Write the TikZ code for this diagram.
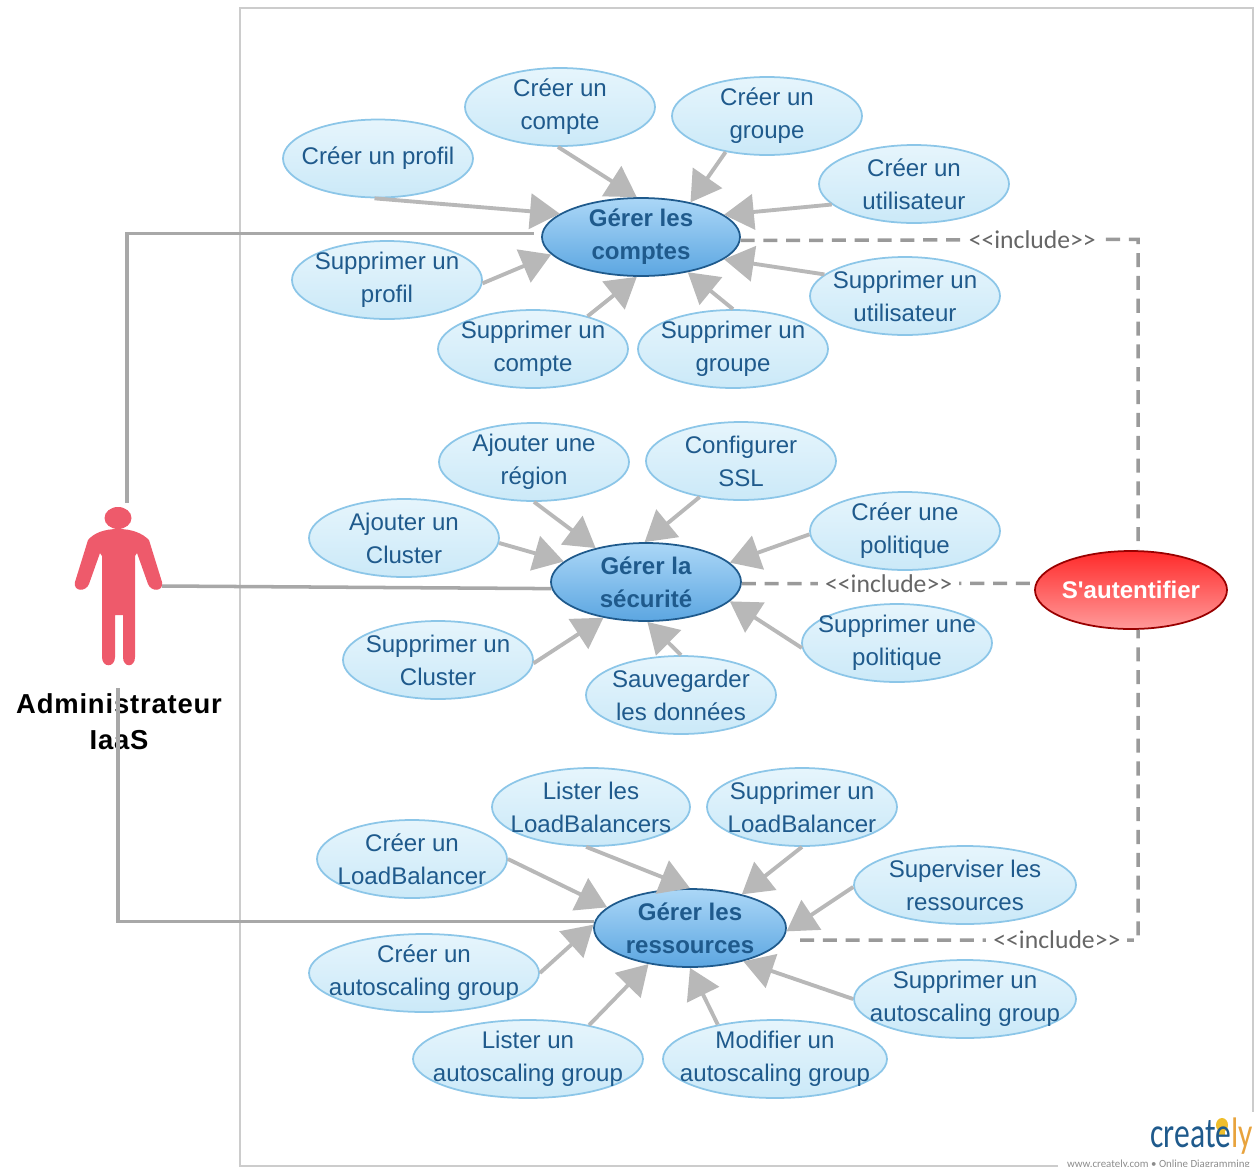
\documentclass[tikz,border=0pt]{standalone}
\usepackage{fontspec}
\setmainfont{Liberation Sans}
\newfontfamily\labelfont{Carlito}
\newfontfamily\actorfont[LetterSpace=3]{Liberation Sans}
\usetikzlibrary{shapes.geometric,arrows.meta}
\definecolor{linegray}{HTML}{B8B8B8}
\definecolor{actorline}{HTML}{A8A8A8}
\definecolor{dashgray}{HTML}{9A9A9A}
\definecolor{usetext}{HTML}{1F5A8C}
\definecolor{actorred}{HTML}{EE5A6B}
\definecolor{usetop}{HTML}{E6F5FC}
\definecolor{usebottom}{HTML}{CBE9F8}
\definecolor{useborder}{HTML}{8CC6E8}
\definecolor{maintop}{HTML}{ABD7F7}
\definecolor{mainbottom}{HTML}{5CA6E1}
\definecolor{authtop}{HTML}{FF2A2A}
\definecolor{authbottom}{HTML}{FF9A9A}
\definecolor{logoorange}{HTML}{E8A33D}
\tikzset{
    usecase/.style={ellipse,draw=useborder,line width=1pt,top color=usetop,bottom color=usebottom,
        minimum width=190*0.02cm,minimum height=78*0.02cm,inner xsep=-30pt,inner ysep=-12pt,align=center,text=usetext,
        font=\fontsize{13.7}{18.8}\selectfont},
    mainuse/.style={usecase,draw=usetext,top color=maintop,bottom color=mainbottom,font=\fontsize{13.7}{18.8}\selectfont\bfseries},
    authuse/.style={usecase,draw=red!60!black,top color=authtop,bottom color=authbottom,text=white,font=\fontsize{13.7}{18.8}\selectfont\bfseries},
    includes/.style={line width=2pt,draw=dashgray,dash pattern=on 8pt off 5pt},
    includelabel/.style={fill=white,inner xsep=4pt,inner ysep=1.5pt,text=black!60,font=\labelfont\fontsize{14.6}{16}\selectfont},
    toward/.style={line width=2.2pt,draw=linegray,-{Triangle[length=17pt,width=20pt,fill=linegray]}},
    actorlink/.style={line width=2pt,draw=actorline},
}
\begin{document}
\begin{tikzpicture}[x=0.02cm,y=-0.02cm]
    \useasboundingbox (0,0) rectangle (1255,1167);
    \draw[black!20,line width=0.6pt] (1058,1166) -- (240,1166) -- (240,8) -- (1253,8) -- (1253,1112);

    % actor
    \fill[actorred] (118,518) ellipse [x radius=13.5,y radius=11];
    \fill[actorred] (118,529) .. controls (104,529) and (94,533) .. (88,540) -- (75,582)
        .. controls (73,592) and (86,592) .. (89,584) -- (100,553) -- (102,556) -- (102,657)
        .. controls (102,668) and (115,668) .. (115,657) -- (115,615) -- (123,615) -- (123,657)
        .. controls (123,668) and (135,668) .. (135,657) -- (135,556) -- (137,553) -- (148,584)
        .. controls (151,592) and (164,592) .. (162,582) -- (149,540) .. controls (142,533) and (132,529) .. (118,529);
    \node[align=center,font=\actorfont\fontsize{15.6}{20.5}\selectfont\bfseries] (admin) at (119,722) {Administrateur\\IaaS};
    \coordinate (actortop) at (127,503);
    \coordinate (actorhand) at (162,586);
    \coordinate (actorlow) at (118,688);

    % main use cases
    \node[mainuse,minimum width=198*0.02cm] (comptes) at (641,237) {Gérer les\\comptes};
    \node[mainuse] (secu) at (646,582) {Gérer la\\sécurité};
    \node[mainuse,minimum width=192*0.02cm] (res) at (690,928) {Gérer les\\ressources};
    \node[authuse,minimum width=192*0.02cm] (auth) at (1131,590) {S\textquotesingle autentifier};

    % comptes
    \node[usecase] (cprofil) at (378,158.5) {Créer un profil};
    \node[usecase] (ccompte) at (560,107) {Créer un\\compte};
    \node[usecase] (cgroupe) at (767,116) {Créer un\\groupe};
    \node[usecase] (cutil) at (914,184) {Créer un\\utilisateur};
    \node[usecase] (sprofil) at (387,280) {Supprimer un\\profil};
    \node[usecase] (scompte) at (533,349) {Supprimer un\\compte};
    \node[usecase] (sgroupe) at (733,349) {Supprimer un\\groupe};
    \node[usecase] (sutil) at (905,296) {Supprimer un\\utilisateur};

    % securite
    \node[usecase] (aregion) at (534,462) {Ajouter une\\région};
    \node[usecase] (ssl) at (741,461) {Configurer\\SSL};
    \node[usecase] (acluster) at (404,538) {Ajouter un\\Cluster};
    \node[usecase] (cpolitique) at (905,531) {Créer une\\politique};
    \node[usecase] (scluster) at (438,660) {Supprimer un\\Cluster};
    \node[usecase] (sauver) at (681,695) {Sauvegarder\\les données};
    \node[usecase] (spolitique) at (897,643) {Supprimer une\\politique};

    % ressources
    \node[usecase,minimum width=198*0.02cm] (llb) at (591,807) {Lister les\\LoadBalancers};
    \node[usecase] (slb) at (802,807) {Supprimer un\\LoadBalancer};
    \node[usecase] (clb) at (412,859) {Créer un\\LoadBalancer};
    \node[usecase,minimum width=222*0.02cm] (superv) at (965,885) {Superviser les\\ressources};
    \node[usecase,minimum width=230*0.02cm] (cauto) at (424,973) {Créer un\\autoscaling group};
    \node[usecase,minimum width=230*0.02cm] (lauto) at (528,1059) {Lister un\\autoscaling group};
    \node[usecase,minimum width=224*0.02cm] (mauto) at (775,1059) {Modifier un\\autoscaling group};
    \node[usecase,minimum width=222*0.02cm] (sauto) at (965,999) {Supprimer un\\autoscaling group};

    \foreach \uc/\ua/\ta in {cprofil/-95/164,ccompte/-93/96,cgroupe/-139/35,cutil/-166/15,
        sprofil/-2/-169,scompte/31/-96,sgroupe/90/-37,sutil/165/-15}
        \draw[toward] (\uc.\ua) -- (comptes.\ta);
    \foreach \uc/\ua/\ta in {aregion/-90/146,ssl/-139/92,acluster/-3/166,cpolitique/-178/13,
        scluster/-2/-140,sauver/90/-88,spolitique/-177/-13}
        \draw[toward] (\uc.\ua) -- (secu.\ta);
    \foreach \uc/\ua/\ta in {llb/-97/90,slb/-90/33,clb/0/166,superv/-179/-2,
        cauto/0/178,lauto/29/-139,mauto/149/-90,sauto/180/-32}
        \draw[toward] (\uc.\ua) -- (res.\ta);

    % actor links
    \draw[actorlink,shorten >=4pt] (actortop) |- (comptes.178);
    \draw[actorlink] (actorhand) -- (secu.184);
    \draw[actorlink] (actorlow) |- (res.176);

    % include links
    \coordinate (resout) at (800,940);
    \coordinate (authup) at (1138,239.4);
    \coordinate (authdown) at (1138,940);
    \draw[includes] (comptes.-2) -- node[pos=0.734,includelabel] (inca) {{<}{<}include{>}{>}} (authup) -- (auth.80);
    \draw[includes] (secu.-1) -- node[midway,includelabel] (incb) {{<}{<}include{>}{>}} (auth.176);
    \draw[includes] (resout) -- node[pos=0.76,includelabel] (incc) {{<}{<}include{>}{>}} (authdown) -- (auth.-80);

    % logo
    \fill[logoorange!70!yellow] (1222,1125) ellipse [x radius=6,y radius=7];
    \fill[logoorange!70!yellow] (1219,1130) rectangle (1225,1135);
    \node[anchor=south east,inner sep=0pt,text=usetext,font=\labelfont\fontsize{18}{20}\selectfont] (logo) at (1253,1155) {\scalebox{1}[1.35]{create{\color{logoorange}ly}}};
    \node[anchor=south east,inner sep=0pt,text=black!45,font=\labelfont\fontsize{6.2}{7}\selectfont] (site) at (1250,1170) {www.creately.com • Online Diagramming};
\end{tikzpicture}
\end{document}
